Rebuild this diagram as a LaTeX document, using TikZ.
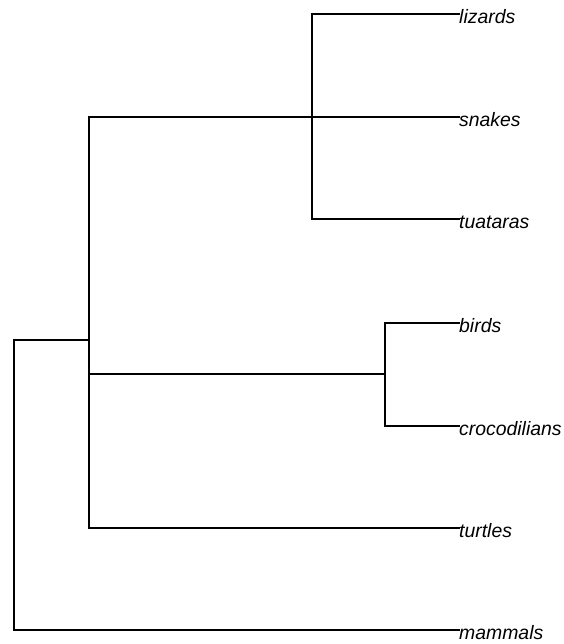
\documentclass[tikz,border=0pt]{standalone}
\usepackage{fontspec}
\setmainfont{Liberation Sans}
\begin{document}
\begin{tikzpicture}[x=1pt,y=-1pt,
  branch/.style={draw=black,line width=2.6pt,line cap=rect},
  leaf/.style={anchor=west,inner sep=0pt,font=\fontsize{19.4}{23}\selectfont\itshape}]
\useasboundingbox (0,0) rectangle (563,644);
% internal nodes of the tree
\coordinate (root) at (14,340);
\coordinate (rep) at (89,340);
\coordinate (lep) at (312,117);
\coordinate (arc) at (385,374);
% tips
\node[leaf] (lizards) at (459,17) {lizards};
\node[leaf] (snakes) at (459,120) {snakes};
\node[leaf] (tuataras) at (459,222) {tuataras};
\node[leaf] (birds) at (459,326) {birds};
\node[leaf] (crocodilians) at (459,429) {crocodilians};
\node[leaf] (turtles) at (459,531) {turtles};
\node[leaf] (mammals) at (459,633) {mammals};
% tip end points
\coordinate (tLiz) at (459,14);
\coordinate (tSna) at (459,117);
\coordinate (tTua) at (459,219);
\coordinate (tBir) at (459,323);
\coordinate (tCro) at (459,426);
\coordinate (tTur) at (459,528);
\coordinate (tMam) at (459,630);
% branches
\draw[branch] (root) -- (rep);
\draw[branch] (tMam) -| (root) |- (rep);
\draw[branch] (tSna) -| (rep) |- (tTur);
\draw[branch] (tLiz) -| (lep) |- (tTua);
\draw[branch] (rep |- arc) -- (arc);
\draw[branch] (tBir) -| (arc) |- (tCro);
\end{tikzpicture}
\end{document}
